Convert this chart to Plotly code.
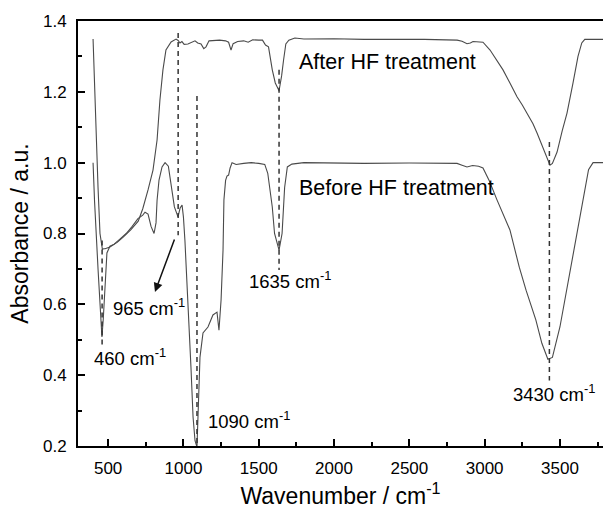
import plotly.graph_objects as go

# ---- data ----
after_x = [400, 410, 420, 433, 446, 455, 462, 470, 480, 512, 560, 600, 650, 700, 730, 765, 798, 825, 844, 864, 884,
           918, 951, 965, 977, 990, 1005, 1030, 1055, 1077, 1095, 1117, 1135, 1150, 1170, 1200, 1240, 1280, 1300,
           1316, 1330, 1360, 1400, 1430, 1460, 1500, 1525, 1545, 1565, 1590, 1610, 1635, 1652, 1665, 1680, 1700,
           1740, 1800, 2000, 2200, 2400, 2600, 2817, 2850, 2883, 2905, 2923, 2960, 2989, 3036, 3082, 3122, 3168,
           3215, 3250, 3281, 3321, 3348, 3388, 3414, 3434, 3450, 3481, 3515, 3547, 3587, 3620, 3645, 3665, 3786]
after_y = [1.349, 1.20, 1.064, 0.93, 0.80, 0.765, 0.755, 0.757, 0.757, 0.762, 0.775, 0.790, 0.810, 0.835, 0.87,
           0.923, 0.979, 1.064, 1.177, 1.262, 1.318, 1.341, 1.349, 1.345, 1.338, 1.342, 1.334, 1.335, 1.340, 1.344,
           1.338, 1.335, 1.322, 1.327, 1.344, 1.345, 1.346, 1.344, 1.340, 1.318, 1.336, 1.342, 1.344, 1.340, 1.347,
           1.346, 1.346, 1.332, 1.327, 1.262, 1.225, 1.203, 1.245, 1.29, 1.335, 1.346, 1.352, 1.349, 1.350, 1.348,
           1.349, 1.348, 1.346, 1.343, 1.336, 1.338, 1.342, 1.341, 1.340, 1.318, 1.29, 1.262, 1.225, 1.186, 1.163,
           1.14, 1.11, 1.084, 1.041, 1.010, 0.993, 0.998, 1.03, 1.09, 1.14, 1.225, 1.30, 1.338, 1.348, 1.348]

before_x = [400, 410, 433, 450, 459, 468, 479, 492, 512, 540, 580, 620, 660, 698, 730, 745, 765, 785, 805, 818, 825,
            838, 858, 878, 900, 918, 940, 964, 978, 991, 1000, 1010, 1030, 1050, 1064, 1077, 1090, 1100, 1110, 1130,
            1163, 1196, 1223, 1236, 1250, 1263, 1269, 1280, 1289, 1300, 1310, 1323, 1350, 1400, 1450, 1500, 1540,
            1560, 1590, 1605, 1635, 1655, 1672, 1690, 1720, 1800, 2000, 2200, 2500, 2817, 2850, 2883, 2920, 2960,
            2989, 3030, 3082, 3168, 3230, 3275, 3340, 3380, 3420, 3450, 3500, 3560, 3610, 3655, 3690, 3720, 3786]
before_y = [1.000, 0.89, 0.70, 0.56, 0.508, 0.56, 0.66, 0.745, 0.764, 0.770, 0.785, 0.800, 0.820, 0.842, 0.852,
            0.860, 0.855, 0.820, 0.800, 0.830, 0.894, 0.951, 0.988, 1.000, 0.990, 0.943, 0.875, 0.847, 0.872, 0.880,
            0.847, 0.780, 0.612, 0.423, 0.282, 0.215, 0.197, 0.30, 0.451, 0.519, 0.536, 0.570, 0.578, 0.527, 0.612,
            0.753, 0.895, 0.950, 0.962, 0.965, 0.985, 1.000, 0.995, 0.998, 1.000, 0.998, 0.995, 0.970, 0.875, 0.80,
            0.753, 0.80, 0.93, 0.988, 0.996, 1.0, 0.999, 0.998, 0.999, 0.998, 0.993, 0.988, 0.992, 0.990, 0.985,
            0.95, 0.895, 0.81, 0.705, 0.64, 0.556, 0.49, 0.445, 0.45, 0.536, 0.677, 0.80, 0.895, 0.98, 1.0, 1.0]

# marker (dashed) lines: position, top, bottom
peak_pos = [460, 965, 1090, 1635, 3430]
peak_top = [0.78, 1.366, 1.188, 1.262, 1.058]
peak_bot = [0.475, 0.795, 0.2, 0.697, 0.385]

# peak labels: text, x (left edge), y (centre)
label_text = ["460 cm<sup>-1</sup>", "965 cm<sup>-1</sup>", "1090 cm<sup>-1</sup>", "1635 cm<sup>-1</sup>",
              "3430 cm<sup>-1</sup>"]
label_x = [395, 520, 1150, 1420, 3175]
label_y = [0.451, 0.592, 0.273, 0.669, 0.349]

series_text = ["After HF treatment", "Before HF treatment"]
series_lx = [1755, 1755]
series_ly = [1.284, 0.928]

arrow_tail = (944, 0.787)
arrow_head = (811, 0.635)

FONT = "Arial, Liberation Sans, sans-serif"
CURVE = "#4a4a4a"

fig = go.Figure()
fig.add_trace(go.Scatter(x=after_x, y=after_y, mode="lines", line=dict(color=CURVE, width=1.1), showlegend=False))
fig.add_trace(go.Scatter(x=before_x, y=before_y, mode="lines", line=dict(color=CURVE, width=1.1), showlegend=False))

for px, t, b in zip(peak_pos, peak_top, peak_bot):
    fig.add_trace(go.Scatter(x=[px, px], y=[t, b], mode="lines",
                             line=dict(color="#333333", width=1.5, dash="5px,4px"), showlegend=False))

for txt, x, y in zip(label_text, label_x, label_y):
    fig.add_annotation(x=x, y=y, text=txt, showarrow=False, xanchor="left", yanchor="middle",
                       font=dict(family=FONT, size=18.5, color="black"))
for txt, x, y in zip(series_text, series_lx, series_ly):
    fig.add_annotation(x=x, y=y, text=txt, showarrow=False, xanchor="left", yanchor="middle",
                       font=dict(family=FONT, size=21.5, color="black"))

fig.add_annotation(x=arrow_head[0], y=arrow_head[1], ax=arrow_tail[0], ay=arrow_tail[1],
                   xref="x", yref="y", axref="x", ayref="y", text="", showarrow=True,
                   arrowhead=2, arrowsize=1.2, arrowwidth=1.5, arrowcolor="#111111")

fig.update_layout(
    width=603, height=510,
    margin=dict(l=78, r=0, t=21, b=64),
    paper_bgcolor="white", plot_bgcolor="white",
    font=dict(family=FONT, color="black", size=17),
    xaxis=dict(range=[300, 3786], tickmode="linear", tick0=0, dtick=500,
               ticks="inside", ticklen=7, tickwidth=1.5, tickcolor="black",
               minor=dict(ticks="inside", ticklen=4, tickwidth=1.5, tickcolor="black", dtick=250, tick0=0),
               showline=True, linecolor="black", linewidth=2, mirror=True,
               showgrid=False, zeroline=False,
               tickfont=dict(size=17), ticklabelstandoff=6,
               title=dict(text="Wavenumber / cm<sup>-1</sup>", font=dict(size=23), standoff=10)),
    yaxis=dict(range=[0.2, 1.4], tickmode="linear", tick0=0.2, dtick=0.2, tickformat=".1f",
               ticks="inside", ticklen=7, tickwidth=1.5, tickcolor="black",
               minor=dict(ticks="inside", ticklen=4, tickwidth=1.5, tickcolor="black", dtick=0.1, tick0=0.2),
               showline=True, linecolor="black", linewidth=2, mirror=False,
               showgrid=False, zeroline=False,
               tickfont=dict(size=17), ticklabelstandoff=6,
               title=dict(text="Absorbance / a.u.", font=dict(size=23), standoff=8)),
)

fig.write_html("out.html")
